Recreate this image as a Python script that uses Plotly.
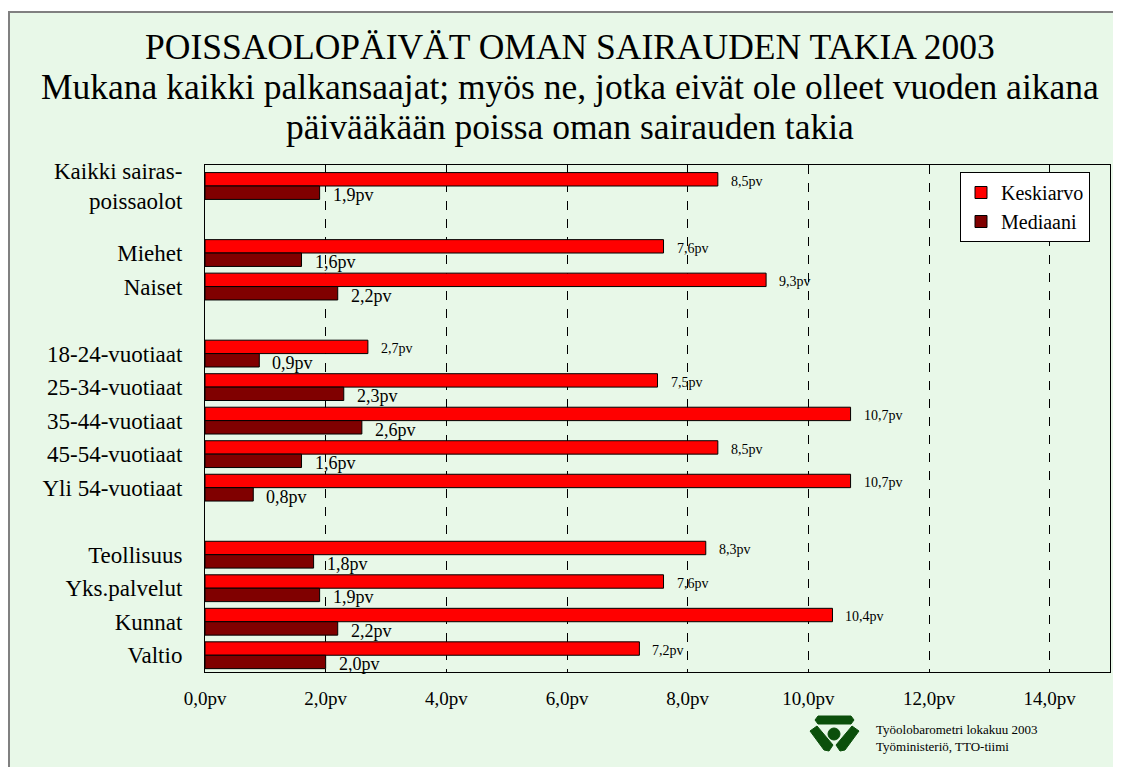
import plotly.graph_objects as go

# ---- data ----
groups = [
    ["Kaikki sairas-<br>poissaolot"],
    ["Miehet", "Naiset"],
    ["18-24-vuotiaat", "25-34-vuotiaat", "35-44-vuotiaat", "45-54-vuotiaat", "Yli 54-vuotiaat"],
    ["Teollisuus", "Yks.palvelut", "Kunnat", "Valtio"],
]
keskiarvo = [8.5, 7.6, 9.3, 2.7, 7.5, 10.7, 8.5, 10.7, 8.3, 7.6, 10.4, 7.2]
mediaani = [1.9, 1.6, 2.2, 0.9, 2.3, 2.6, 1.6, 0.8, 1.8, 1.9, 2.2, 2.0]
x_ticks = [0, 2, 4, 6, 8, 10, 12, 14]

# build categorical axis with blank spacer slots between groups
categories = []
labels = []
for gi, g in enumerate(groups):
    if gi > 0:
        categories.append("\u200b" * gi)
    categories.extend(g)
    labels.extend(g)

def fmt(v):
    return f"{v:.1f}".replace(".", ",") + "pv"

FONT = "Liberation Serif"
OFF = 8  # browser body margin
W, H = 1121 - OFF, 767 - OFF
# plot area in reference pixel coordinates
L, R, T, B = 205, 1110, 165, 672
pw, ph = R - L, B - T

def px(x):
    return (x - L) / pw

def py(y):
    return (B - y) / ph

fig = go.Figure()
fig.add_trace(go.Bar(
    y=labels, x=keskiarvo, orientation="h", name="Keskiarvo",
    marker=dict(color="#FF0000", line=dict(color="black", width=1)),
))
fig.add_trace(go.Bar(
    y=labels, x=mediaani, orientation="h", name="Mediaani",
    marker=dict(color="#800000", line=dict(color="black", width=1)),
))

annotations = []
for lab, v in zip(labels, keskiarvo):
    annotations.append(dict(x=v, y=lab, xref="x", yref="y", text=fmt(v), showarrow=False,
                            xanchor="left", yanchor="middle", xshift=11, yshift=5,
                            font=dict(family=FONT, size=14, color="black")))
for lab, v in zip(labels, mediaani):
    annotations.append(dict(x=v, y=lab, xref="x", yref="y", text=fmt(v), showarrow=False,
                            xanchor="left", yanchor="middle", xshift=11, yshift=-9,
                            font=dict(family=FONT, size=18, color="black")))

title_lines = [
    ("POISSAOLOPÄIVÄT OMAN SAIRAUDEN TAKIA 2003", 47),
    ("Mukana kaikki palkansaajat; myös ne, jotka eivät ole olleet vuoden aikana", 87),
    ("päivääkään poissa oman sairauden takia", 127),
]
for t, yy in title_lines:
    annotations.append(dict(x=px(570), y=py(yy), xref="paper", yref="paper", text=t, showarrow=False,
                            xanchor="center", yanchor="middle",
                            font=dict(family=FONT, size=35.5, color="black")))

annotations.append(dict(x=px(874), y=py(738), xref="paper", yref="paper",
                        text="Työolobarometri lokakuu 2003<br>Työministeriö, TTO-tiimi",
                        showarrow=False, xanchor="left", yanchor="middle", align="left",
                        font=dict(family=FONT, size=13, color="black")))

green = "#0B4F0B"
shapes = [
    # outer frame with light green background
    dict(type="rect", xref="paper", yref="paper", x0=px(9), x1=px(1118), y0=py(800), y1=py(12),
         fillcolor="#E8F8E8", line=dict(color="#808080", width=2), layer="below"),
    # logo: top bar
    dict(type="path", xref="paper", yref="paper",
         path=f"M {px(818)} {py(716)} L {px(851)} {py(716)} L {px(854)} {py(720)} L {px(851)} {py(724)} "
              f"L {px(818)} {py(724)} L {px(815)} {py(720)} Z",
         fillcolor=green, line=dict(color=green, width=1)),
    # logo: left diagonal
    dict(type="path", xref="paper", yref="paper",
         path=f"M {px(810)} {py(731)} L {px(817)} {py(726)} L {px(833)} {py(745)} L {px(829)} {py(751)} "
              f"L {px(824)} {py(750)} Z",
         fillcolor=green, line=dict(color=green, width=1)),
    # logo: right diagonal
    dict(type="path", xref="paper", yref="paper",
         path=f"M {px(859)} {py(731)} L {px(852)} {py(726)} L {px(836)} {py(745)} L {px(840)} {py(751)} "
              f"L {px(845)} {py(750)} Z",
         fillcolor=green, line=dict(color=green, width=1)),
    # logo: circle
    dict(type="circle", xref="paper", yref="paper",
         x0=px(828), x1=px(840), y0=py(740), y1=py(728),
         fillcolor=green, line=dict(color=green, width=1)),
]

fig.update_layout(
    width=W, height=H,
    margin=dict(l=L - OFF, r=W - (R - OFF), t=T - OFF, b=H - (B - OFF), pad=0),
    paper_bgcolor="white", plot_bgcolor="white",
    barmode="group", bargap=0.2, bargroupgap=0,
    font=dict(family=FONT, color="black"),
    showlegend=True,
    legend=dict(x=px(960), y=py(172), xanchor="left", yanchor="top",
                bgcolor="white", bordercolor="black", borderwidth=1,
                font=dict(family=FONT, size=20, color="black"), traceorder="normal",
                itemwidth=30, tracegroupgap=2),
    annotations=annotations,
    shapes=shapes,
)
fig.update_xaxes(
    range=[0, 15], tickvals=x_ticks, ticktext=[fmt(v) for v in x_ticks],
    showgrid=True, gridcolor="black", griddash="dash", gridwidth=1,
    showline=True, linecolor="black", linewidth=1, mirror=True,
    zeroline=False, ticks="", ticklabelstandoff=9,
    tickfont=dict(family=FONT, size=19, color="black"),
)
fig.update_yaxes(
    type="category", categoryorder="array", categoryarray=categories,
    tickmode="array", tickvals=labels, ticktext=labels,
    autorange="reversed",
    showline=True, linecolor="black", linewidth=1, mirror=True,
    showgrid=False, ticks="", ticklabelstandoff=17,
    tickfont=dict(family=FONT, size=23, color="black"),
)

fig.write_html("out.html")
